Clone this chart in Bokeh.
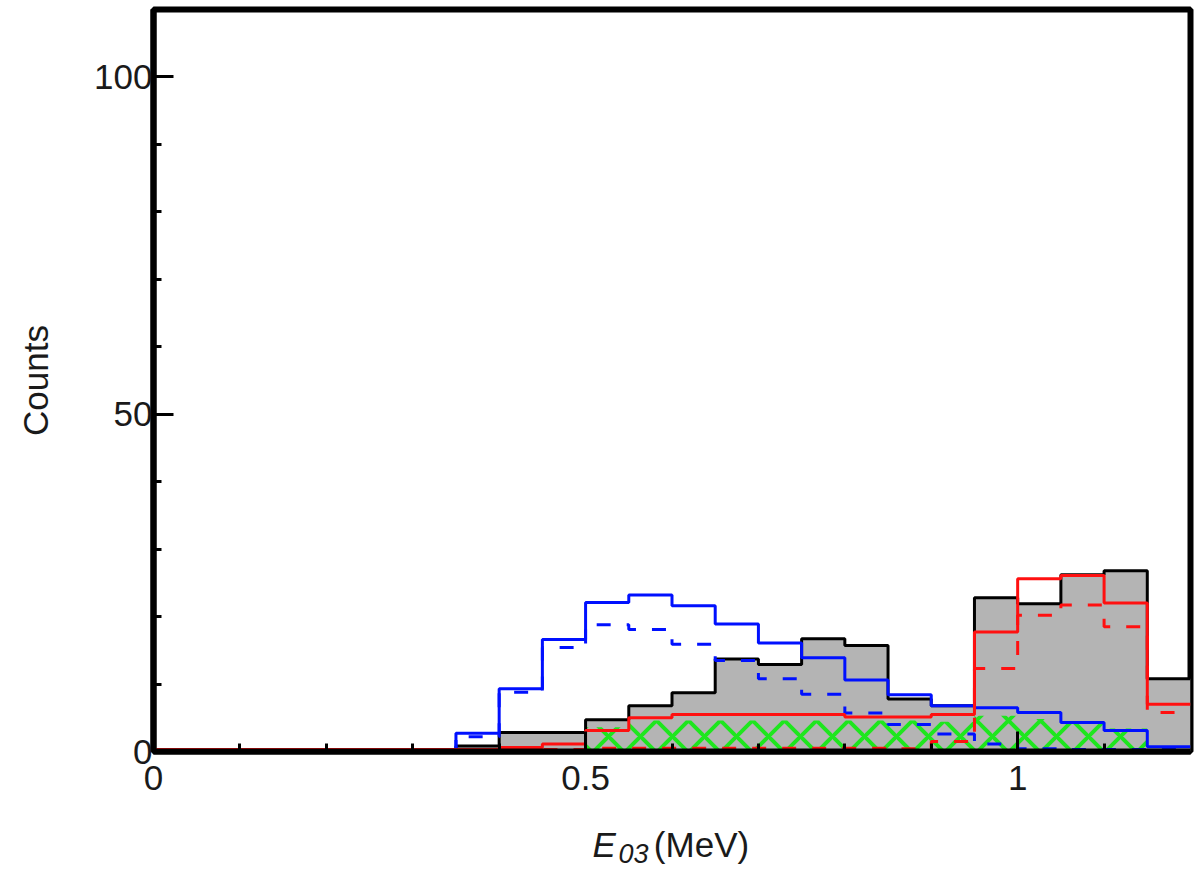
from bokeh.plotting import figure
from bokeh.layouts import column
from bokeh.models import Range1d, FixedTicker, NumeralTickFormatter
from bokeh.core.properties import value
from bokeh.embed import file_html
from bokeh.resources import INLINE

# bin edges (MeV), 0.05 MeV bins
bin_edges = [0.00, 0.05, 0.10, 0.15, 0.20, 0.25, 0.30, 0.35, 0.40, 0.45,
             0.50, 0.55, 0.60, 0.65, 0.70, 0.75, 0.80, 0.85, 0.90, 0.95,
             1.00, 1.05, 1.10, 1.15, 1.20]

# measured histogram (grey filled, black outline)
data_counts = [0, 0, 0, 0, 0, 0, 0, 0.8, 2.8, 2.8,
               4.7, 6.8, 8.7, 13.7, 12.9, 16.7, 15.7, 7.8, 6.8, 22.8,
               21.9, 26.2, 26.8, 10.8]
# blue solid
blue_solid = [0, 0, 0, 0, 0, 0, 0, 2.7, 9.3, 16.6,
              22.1, 23.2, 21.6, 18.9, 16.1, 13.9, 10.6, 8.4, 6.8, 6.5,
              5.8, 4.3, 3.1, 0.7]
# blue dashed
blue_dashed = [0, 0, 0, 0, 0, 0, 0, 2.2, 8.8, 15.4,
               18.8, 18.1, 15.9, 13.5, 10.8, 8.5, 5.7, 4.0, 2.6, 1.1,
               0.4, 0.3, 0.3, 0.3]
# red solid
red_solid = [0.3, 0.3, 0.3, 0.3, 0.3, 0.3, 0.3, 0.3, 0.6, 1.1,
             3.1, 5.0, 5.5, 5.5, 5.5, 5.5, 5.1, 5.1, 5.5, 17.7,
             25.6, 26.1, 22.0, 7.0]
# red dashed
red_dashed = [0.3, 0.3, 0.3, 0.3, 0.3, 0.3, 0.3, 0.3, 0.3, 0.3,
              0.5, 0.5, 0.5, 0.5, 0.5, 0.5, 0.5, 0.4, 1.5, 12.3,
              20.2, 21.7, 18.5, 5.8]
# green hatched
green_hatched = [0, 0, 0, 0, 0, 0, 0, 0, 0, 0,
                 3.6, 4.6, 4.6, 4.6, 4.6, 4.6, 4.6, 4.6, 4.4, 5.3,
                 4.8, 4.2, 3.4, 0]

x_ticks = [0, 0.5, 1.0]
x_minor = [0.1, 0.2, 0.3, 0.4, 0.6, 0.7, 0.8, 0.9, 1.1]
y_ticks = [0, 50, 100]
y_minor = [10, 20, 30, 40, 60, 70, 80, 90, 110]

# x-axis title pieces
x_title_parts = ["E", "03", "(MeV)"]

FONT = "Liberation Sans"
TXT = "#1a1a1a"

p = figure(frame_width=1037, frame_height=742,
           min_border_left=153, min_border_right=5, min_border_top=9, min_border_bottom=62,
           x_range=Range1d(0, 1.2), y_range=Range1d(0, 110),
           output_backend="svg", toolbar_location=None)

p.background_fill_color = "white"
p.border_fill_color = "white"
p.xgrid.grid_line_color = None
p.ygrid.grid_line_color = None
p.outline_line_color = "black"
p.outline_line_width = 6


def ext(values):
    return values + [values[-1]]


# grey fill of measured histogram
p.varea_step(x=bin_edges, y1=[0] * len(bin_edges), y2=ext(data_counts),
             step_mode="after", fill_color="#b4b4b4")
# green hatched histogram
p.varea_step(x=bin_edges, y1=[0] * len(bin_edges), y2=ext(green_hatched),
             step_mode="after", fill_alpha=0, hatch_pattern="diagonal_cross",
             hatch_color="#1ee61e", hatch_weight=4, hatch_scale=32)


def step(values, color, dash="solid"):
    p.step(x=bin_edges, y=ext(values), mode="after",
           line_color=color, line_width=3, line_dash=dash)


step(data_counts, "black")
step(blue_dashed, "#0010ff", "14 16")
step(blue_solid, "#0010ff")
step(red_dashed, "#ff1010", "14 16")
step(red_solid, "#ff1010")

for ax in (p.xaxis[0], p.yaxis[0]):
    ax.axis_line_width = 6
    ax.axis_line_color = "black"
    ax.major_tick_in = 20
    ax.major_tick_out = 0
    ax.major_tick_line_width = 3
    ax.minor_tick_in = 8
    ax.minor_tick_out = 0
    ax.minor_tick_line_width = 3
    ax.major_label_text_font = FONT
    ax.major_label_text_font_size = "35px"
    ax.major_label_text_color = TXT

p.xaxis.ticker = FixedTicker(ticks=x_ticks, minor_ticks=x_minor)
p.xaxis.formatter = NumeralTickFormatter(format="0.[0]")
p.xaxis.major_label_standoff = 14
p.yaxis.ticker = FixedTicker(ticks=y_ticks, minor_ticks=y_minor)
p.yaxis.major_label_standoff = 1

p.yaxis.axis_label = "Counts"
p.yaxis.axis_label_text_font = FONT
p.yaxis.axis_label_text_font_size = "35px"
p.yaxis.axis_label_text_font_style = "normal"
p.yaxis.axis_label_text_color = TXT
p.yaxis.axis_label_standoff = 36

# strip below the plot carrying the x-axis title (italic E with subscript 03)
q = figure(frame_width=1037, frame_height=55,
           min_border_left=153, min_border_right=5, min_border_top=0, min_border_bottom=0,
           x_range=Range1d(0, 1.2), y_range=Range1d(0, 55),
           output_backend="svg", toolbar_location=None)
q.axis.visible = False
q.xgrid.grid_line_color = None
q.ygrid.grid_line_color = None
q.outline_line_color = None
q.background_fill_color = "white"
q.border_fill_color = "white"

q.text(x=[0.508], y=[24], text=[x_title_parts[0]], text_font=value(FONT),
       text_font_size="35px", text_font_style="italic", text_color=TXT,
       text_baseline="middle", text_align="left")
q.text(x=[0.538], y=[15], text=[x_title_parts[1]], text_font=value(FONT),
       text_font_size="27px", text_font_style="italic", text_color=TXT,
       text_baseline="middle", text_align="left")
q.text(x=[0.579], y=[24], text=[x_title_parts[2]], text_font=value(FONT),
       text_font_size="35px", text_font_style="normal", text_color=TXT,
       text_baseline="middle", text_align="left")

layout = column(p, q, spacing=0)
open("out.html", "w").write(file_html(layout, INLINE))
